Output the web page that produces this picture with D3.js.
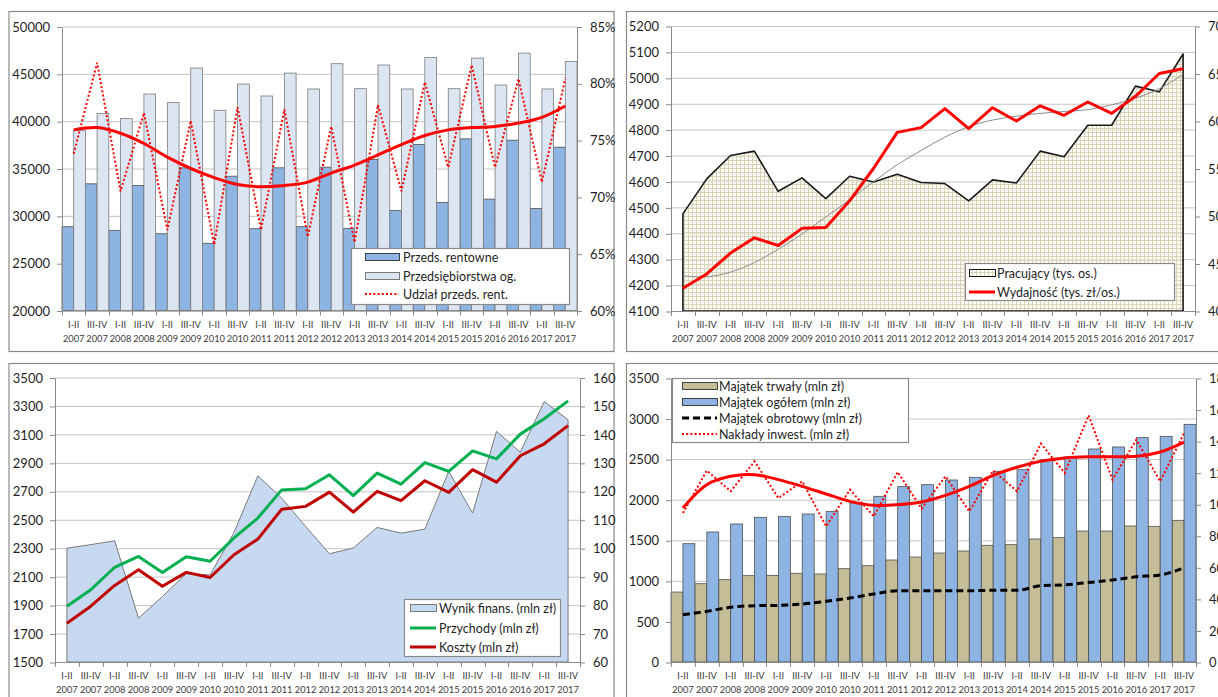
<!DOCTYPE html>
<html>
<head>
<meta charset="utf-8">
<script src="https://cdn.jsdelivr.net/npm/d3@7"></script>
<style>
body { margin: 0; background: #fff; }
svg { display: block; font-family: Lato, "Open Sans", sans-serif; }
</style>
</head>
<body>
<svg id="chart" width="1218" height="697"></svg>
<script>
var categories = ["I-II 2007", "III-IV 2007", "I-II 2008", "III-IV 2008", "I-II 2009", "III-IV 2009",
  "I-II 2010", "III-IV 2010", "I-II 2011", "III-IV 2011", "I-II 2012", "III-IV 2012",
  "I-II 2013", "III-IV 2013", "I-II 2014", "III-IV 2014", "I-II 2015", "III-IV 2015",
  "I-II 2016", "III-IV 2016", "I-II 2017", "III-IV 2017"];

// panel 1 - przedsiebiorstwa
var przedsRentowne = [28850, 33380, 28470, 33210, 28110, 35070, 27100, 34190, 28640, 35070, 28850,
  35140, 28680, 35950, 30570, 37530, 31420, 38130, 31770, 37990, 30780, 37250];
var przedsOgolem = [39040, 40800, 40270, 42870, 41960, 45610, 41150, 43920, 42660, 45080, 43400,
  46070, 43430, 45930, 43400, 46730, 43430, 46660, 43820, 47190, 43400, 46310];
var udzialRent = [73.8, 81.8, 70.5, 77.4, 67.1, 76.7, 65.8, 77.9, 67.1, 77.7, 66.5,
  76.2, 66.0, 78.1, 70.5, 80.1, 72.6, 81.6, 72.6, 80.4, 71.3, 80.4];
var udzialTrend = [75.9, 76.1, 75.6, 74.7, 73.5, 72.5, 71.7, 71.1, 70.9, 71.0, 71.3,
  72.1, 72.8, 73.7, 74.6, 75.4, 75.9, 76.1, 76.2, 76.5, 77.0, 78.0];

// panel 2 - pracujacy
var pracujacy = [4475, 4610, 4700, 4717, 4562, 4614, 4534, 4620, 4598, 4628, 4596,
  4592, 4525, 4606, 4594, 4717, 4695, 4817, 4817, 4968, 4946, 5092];
var wydajnosc = [42.4, 43.9, 46.1, 47.7, 46.9, 48.7, 48.8, 51.6, 55.0, 58.8, 59.3,
  61.3, 59.2, 61.4, 60.0, 61.6, 60.6, 62.0, 60.8, 62.6, 65.0, 65.5];
var wydajnoscTrend = [43.7, 43.6, 44.1, 45.1, 46.5, 48.1, 49.9, 51.7, 53.6, 55.4, 56.9,
  58.3, 59.4, 60.1, 60.5, 60.8, 61.0, 61.2, 61.7, 62.4, 63.4, 64.9];

// panel 3 - wynik finansowy
var wynikFinans = [2300, 2325, 2352, 1808, 1960, 2122, 2112, 2410, 2809, 2652, 2453,
  2261, 2301, 2446, 2406, 2434, 2840, 2547, 3121, 2975, 3331, 3203];
var przychody = [79.6, 85.4, 93.3, 97.1, 91.5, 97.0, 95.4, 103.6, 110.6, 120.5, 120.9,
  125.8, 118.5, 126.4, 122.5, 130.1, 127.0, 134.2, 131.4, 140.1, 145.5, 151.8];
var koszty = [73.6, 79.6, 86.9, 92.4, 86.6, 91.5, 89.7, 97.7, 103.2, 113.7, 114.7,
  119.7, 112.7, 120.0, 116.7, 123.7, 119.6, 127.6, 123.2, 132.5, 136.7, 143.1];

// panel 4 - majatek
var majatekTrwaly = [862, 965, 1015, 1064, 1068, 1093, 1085, 1150, 1187, 1257, 1294,
  1343, 1368, 1438, 1446, 1516, 1532, 1614, 1614, 1676, 1672, 1746];
var majatekOgolem = [1458, 1602, 1701, 1783, 1795, 1824, 1857, 1960, 2042, 2161, 2185,
  2243, 2276, 2350, 2370, 2494, 2526, 2625, 2650, 2765, 2781, 2929];
var majatekObrotowy = [583, 624, 674, 694, 698, 715, 748, 789, 838, 879, 879,
  879, 879, 883, 883, 940, 950, 980, 1010, 1050, 1073, 1160];
var nakladyInwest = [94.4, 121.3, 108.2, 127.2, 103.9, 114.5, 86.0, 109.2, 92.3, 120.4, 97.2,
  117.7, 95.5, 121.3, 108.2, 138.4, 119.8, 156.3, 115.6, 140.9, 114.5, 145.1];
var nakladyTrend = [97.6, 112.4, 117.7, 118.7, 115.6, 111.3, 106.5, 101.8, 99.3, 99.7, 101.4,
  105.6, 111.3, 118.3, 123.4, 127.2, 129.3, 130.1, 130.1, 130.4, 133.1, 139.4];

// podzialki osi
var ticks1L = [20000, 25000, 30000, 35000, 40000, 45000, 50000];
var ticks1R = [60, 65, 70, 75, 80, 85];
var ticks2L = [4100, 4200, 4300, 4400, 4500, 4600, 4700, 4800, 4900, 5000, 5100, 5200];
var ticks2R = [40, 45, 50, 55, 60, 65, 70];
var ticks3L = [1500, 1700, 1900, 2100, 2300, 2500, 2700, 2900, 3100, 3300, 3500];
var ticks3R = [60, 70, 80, 90, 100, 110, 120, 130, 140, 150, 160];
var ticks4L = [0, 500, 1000, 1500, 2000, 2500, 3000, 3500];
var ticks4R = [0, 20, 40, 60, 80, 100, 120, 140, 160, 180];

var svg = d3.select("#chart");
var grey = "#8a8a8a";

var defs = svg.append("defs");
var pat = defs.append("pattern").attr("id", "kratka")
  .attr("patternUnits", "userSpaceOnUse").attr("width", 4).attr("height", 4);
pat.append("rect").attr("width", 4).attr("height", 4).attr("fill", "#fcfbf4").attr("opacity", 0.5);
pat.append("path").attr("d", "M0,0.5H4M0.5,0V4").attr("stroke", "#d9d2b3").attr("stroke-width", 1);

function panel(o) {
  var g = svg.append("g");
  g.append("rect").attr("x", o.frame[0]).attr("y", o.frame[1])
    .attr("width", o.frame[2]).attr("height", o.frame[3])
    .attr("fill", "#fff").attr("stroke", grey).attr("stroke-width", 1.2);
  var x = d3.scaleBand().domain(categories).range([o.l, o.r]);
  var yL = d3.scaleLinear().domain(d3.extent(o.leftTicks)).range([o.b, o.t]);
  var yR = d3.scaleLinear().domain(d3.extent(o.rightTicks)).range([o.b, o.t]);
  g.append("g").selectAll("line").data(o.leftTicks).join("line")
    .attr("x1", o.l).attr("x2", o.r)
    .attr("y1", function(d) { return yL(d) + 0.5; })
    .attr("y2", function(d) { return yL(d) + 0.5; })
    .attr("stroke", "#c4c4c4");
  var marks = g.append("g");
  return {
    g: g, marks: marks, o: o, x: x, yL: yL, yR: yR,
    cx: function(i) { return x(categories[i]) + x.bandwidth() / 2; }
  };
}

function styleAxis(sel) {
  sel.select(".domain").attr("stroke", grey);
  sel.selectAll(".tick line").attr("stroke", grey);
  sel.selectAll(".tick text").attr("fill", "#1f1f1f").attr("font-size", 13)
    .attr("font-family", "Lato, sans-serif");
}

function axes(p) {
  var o = p.o;
  var g = p.g.append("g");
  g.append("g").attr("transform", "translate(" + o.l + ",0.5)")
    .call(d3.axisLeft(p.yL).tickValues(o.leftTicks).tickFormat(d3.format("d"))
      .tickSize(5).tickSizeOuter(0).tickPadding(7))
    .call(styleAxis);
  g.append("g").attr("transform", "translate(" + o.r + ",0.5)")
    .call(d3.axisRight(p.yR).tickValues(o.rightTicks).tickFormat(o.fmtR)
      .tickSize(5).tickSizeOuter(0).tickPadding(8))
    .call(styleAxis);
  // os X
  g.append("line").attr("x1", o.l).attr("x2", o.r).attr("y1", o.b + 0.5).attr("y2", o.b + 0.5)
    .attr("stroke", grey);
  var bounds = categories.map(function(c) { return p.x(c); }).concat([o.r]);
  g.selectAll(".xt").data(bounds).join("line").attr("class", "xt")
    .attr("x1", function(d) { return Math.round(d) + 0.5; })
    .attr("x2", function(d) { return Math.round(d) + 0.5; })
    .attr("y1", o.b).attr("y2", o.b + 5).attr("stroke", grey);
  var lab = g.selectAll(".xl").data(categories).join("text").attr("class", "xl")
    .attr("text-anchor", "middle").attr("font-size", 9.3).attr("fill", "#3a3a3a");
  lab.append("tspan").attr("x", function(d, i) { return p.cx(i); }).attr("y", o.b + 17)
    .text(function(d) { return d.split(" ")[0]; });
  lab.append("tspan").attr("x", function(d, i) { return p.cx(i); }).attr("y", o.b + 31)
    .text(function(d) { return d.split(" ")[1]; });
}

function legend(p, box, sw, tx, items) {
  var g = p.g.append("g");
  g.append("rect").attr("x", box[0] + 0.5).attr("y", box[1] + 0.5).attr("width", box[2]).attr("height", box[3])
    .attr("fill", "#fff").attr("stroke", grey).attr("stroke-width", 1.2);
  items.forEach(function(it) {
    if (it.kind == "rect") {
      g.append("rect").attr("x", sw[0] + 0.5).attr("y", it.y - 3.5).attr("width", sw[1] - sw[0]).attr("height", 7)
        .attr("fill", it.fill).attr("stroke", it.stroke || "#404040").attr("stroke-width", 1);
    } else {
      g.append("line").attr("x1", sw[0]).attr("x2", sw[1]).attr("y1", it.y).attr("y2", it.y)
        .attr("stroke", it.stroke).attr("stroke-width", it.width)
        .attr("stroke-dasharray", it.dash || null);
    }
    g.append("text").attr("x", tx).attr("y", it.y + 4.5).attr("font-size", 12.5)
      .attr("fill", "#1f1f1f").text(it.label);
  });
}

function lineOf(p, scale, curve) {
  return d3.line().x(function(d, i) { return p.cx(i); }).y(function(d) { return scale(d); })
    .curve(curve || d3.curveLinear);
}

// ---------- panel 1 ----------
var p1 = panel({frame: [9, 11.5, 605, 340], l: 62, r: 577, t: 26.5, b: 310.5,
  leftTicks: ticks1L, rightTicks: ticks1R,
  fmtR: function(d) { return d + "%"; }});
var sub1 = d3.scaleBand().domain([0, 1]).range([0, p1.x.bandwidth()]);
p1.marks.selectAll(".b1").data(przedsRentowne).join("rect")
  .attr("x", function(d, i) { return p1.x(categories[i]) + sub1(0); })
  .attr("y", function(d) { return p1.yL(d); })
  .attr("width", sub1.bandwidth())
  .attr("height", function(d) { return p1.yL(20000) - p1.yL(d); })
  .attr("fill", "#8db4e2").attr("stroke", "#505050").attr("stroke-width", 0.8);
p1.marks.selectAll(".b2").data(przedsOgolem).join("rect")
  .attr("x", function(d, i) { return p1.x(categories[i]) + sub1(1); })
  .attr("y", function(d) { return p1.yL(d); })
  .attr("width", sub1.bandwidth())
  .attr("height", function(d) { return p1.yL(20000) - p1.yL(d); })
  .attr("fill", "#dce6f2").attr("stroke", "#7a7a7a").attr("stroke-width", 0.8);
axes(p1);
p1.g.append("path").datum(udzialRent).attr("d", lineOf(p1, p1.yR))
  .attr("fill", "none").attr("stroke", "#ff0000").attr("stroke-width", 2).attr("stroke-dasharray", "2,2.2");
p1.g.append("path").datum(udzialTrend).attr("d", lineOf(p1, p1.yR, d3.curveCatmullRom))
  .attr("fill", "none").attr("stroke", "#ff0000").attr("stroke-width", 3);
legend(p1, [351, 248, 218, 56], [365, 399], 403, [
  {kind: "rect", y: 257, fill: "#8db4e2", label: "Przeds. rentowne"},
  {kind: "rect", y: 276, fill: "#dce6f2", stroke: "#7a7a7a", label: "Przedsiębiorstwa og."},
  {kind: "line", y: 294, stroke: "#ff0000", width: 2, dash: "2,2.2", label: "Udział przeds. rent."}
]);

// ---------- panel 2 ----------
var p2 = panel({frame: [626.5, 11.5, 620, 340], l: 671, r: 1195, t: 26, b: 311,
  leftTicks: ticks2L, rightTicks: ticks2R, fmtR: d3.format("d")});
var area2 = d3.area().x(function(d, i) { return p2.cx(i); })
  .y0(p2.yL(4100)).y1(function(d) { return p2.yL(d); });
p2.marks.append("path").datum(pracujacy).attr("d", function(d) { return area2(d) + "Z"; })
  .attr("fill", "url(#kratka)").attr("stroke", "#1a1a1a").attr("stroke-width", 1.6)
  .attr("stroke-linejoin", "round");
axes(p2);
p2.g.append("path").datum(wydajnoscTrend).attr("d", lineOf(p2, p2.yR, d3.curveCatmullRom))
  .attr("fill", "none").attr("stroke", "#8c8c8c").attr("stroke-width", 1);
p2.g.append("path").datum(wydajnosc).attr("d", lineOf(p2, p2.yR))
  .attr("fill", "none").attr("stroke", "#ff0000").attr("stroke-width", 3).attr("stroke-linejoin", "round");
legend(p2, [965, 263, 209, 37], [969, 995], 997, [
  {kind: "rect", y: 273, fill: "url(#kratka)", stroke: "#1a1a1a", label: "Pracujący (tys. os.)"},
  {kind: "line", y: 292, stroke: "#ff0000", width: 3, label: "Wydajność (tys. zł/os.)"}
]);

// ---------- panel 3 ----------
var p3 = panel({frame: [9, 363.5, 605, 345], l: 55, r: 580, t: 377.5, b: 662,
  leftTicks: ticks3L, rightTicks: ticks3R, fmtR: d3.format("d")});
var area3 = d3.area().x(function(d, i) { return p3.cx(i); })
  .y0(p3.yL(1500)).y1(function(d) { return p3.yL(d); });
p3.marks.append("path").datum(wynikFinans).attr("d", function(d) { return area3(d) + "Z"; })
  .attr("fill", "#c6d9f1").attr("stroke", "#7a7a7a").attr("stroke-width", 1);
axes(p3);
p3.g.append("path").datum(przychody).attr("d", lineOf(p3, p3.yR))
  .attr("fill", "none").attr("stroke", "#00b050").attr("stroke-width", 3).attr("stroke-linejoin", "round");
p3.g.append("path").datum(koszty).attr("d", lineOf(p3, p3.yR))
  .attr("fill", "none").attr("stroke", "#c00000").attr("stroke-width", 3).attr("stroke-linejoin", "round");
legend(p3, [404, 599, 156, 57], [410, 436], 439, [
  {kind: "rect", y: 608, fill: "#c6d9f1", stroke: "#7a7a7a", label: "Wynik finans. (mln zł)"},
  {kind: "line", y: 628, stroke: "#00b050", width: 3, label: "Przychody (mln zł)"},
  {kind: "line", y: 647, stroke: "#c00000", width: 3, label: "Koszty (mln zł)"}
]);

// ---------- panel 4 ----------
var p4 = panel({frame: [626.5, 363.5, 620, 345], l: 671, r: 1196, t: 378, b: 662,
  leftTicks: ticks4L, rightTicks: ticks4R, fmtR: d3.format("d")});
var sub4 = d3.scaleBand().domain([0, 1]).range([0, p4.x.bandwidth()]);
p4.marks.selectAll(".b1").data(majatekTrwaly).join("rect")
  .attr("x", function(d, i) { return p4.x(categories[i]) + sub4(0); })
  .attr("y", function(d) { return p4.yL(d); })
  .attr("width", sub4.bandwidth())
  .attr("height", function(d) { return p4.yL(0) - p4.yL(d); })
  .attr("fill", "#c4bd97").attr("stroke", "#505050").attr("stroke-width", 0.8);
p4.marks.selectAll(".b2").data(majatekOgolem).join("rect")
  .attr("x", function(d, i) { return p4.x(categories[i]) + sub4(1); })
  .attr("y", function(d) { return p4.yL(d); })
  .attr("width", sub4.bandwidth())
  .attr("height", function(d) { return p4.yL(0) - p4.yL(d); })
  .attr("fill", "#8db4e2").attr("stroke", "#505050").attr("stroke-width", 0.8);
axes(p4);
p4.g.append("path").datum(majatekObrotowy).attr("d", lineOf(p4, p4.yL, d3.curveMonotoneX))
  .attr("fill", "none").attr("stroke", "#000").attr("stroke-width", 3).attr("stroke-dasharray", "7,4");
p4.g.append("path").datum(nakladyInwest).attr("d", lineOf(p4, p4.yR))
  .attr("fill", "none").attr("stroke", "#ff0000").attr("stroke-width", 2).attr("stroke-dasharray", "2,2.2");
p4.g.append("path").datum(nakladyTrend).attr("d", lineOf(p4, p4.yR, d3.curveCatmullRom))
  .attr("fill", "none").attr("stroke", "#ff0000").attr("stroke-width", 3);
legend(p4, [672, 378, 236, 64], [682, 717], 719, [
  {kind: "rect", y: 386, fill: "#c4bd97", label: "Majątek trwały (mln zł)"},
  {kind: "rect", y: 402, fill: "#8db4e2", label: "Majątek ogółem (mln zł)"},
  {kind: "line", y: 418, stroke: "#000", width: 3, dash: "7,4", label: "Majątek obrotowy (mln zł)"},
  {kind: "line", y: 434, stroke: "#ff0000", width: 2, dash: "2,2.2", label: "Nakłady inwest. (mln zł)"}
]);
</script>
</body>
</html>
